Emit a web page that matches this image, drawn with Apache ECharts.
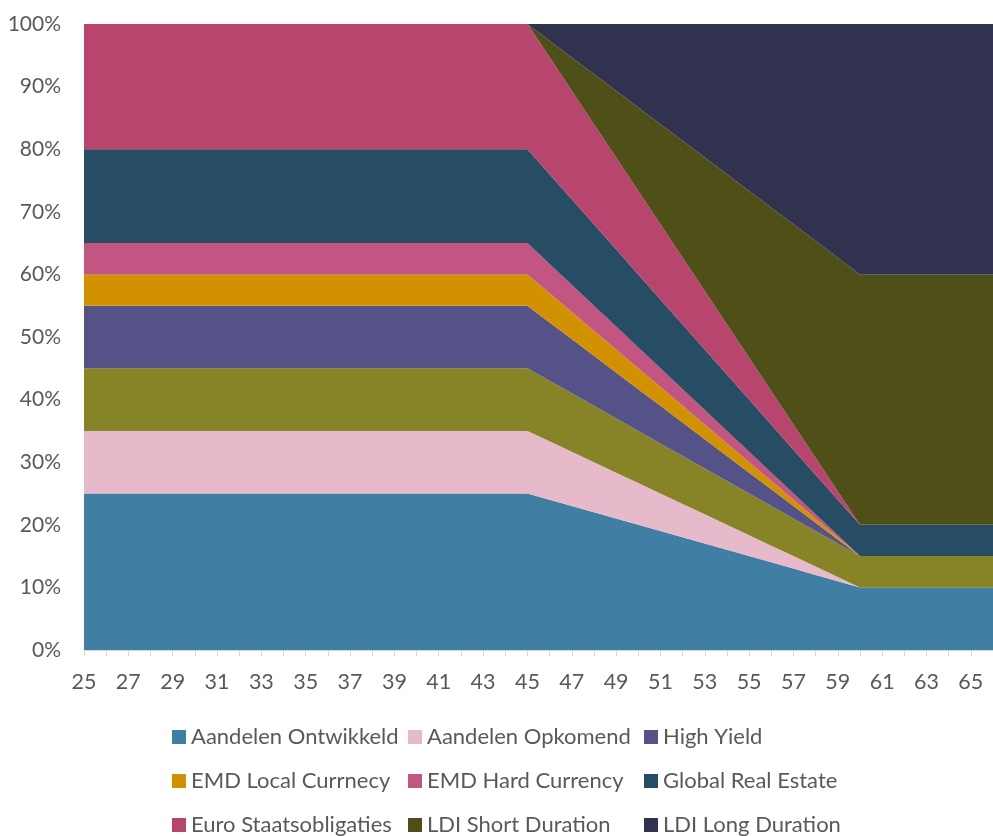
<!DOCTYPE html>
<html>
<head>
<meta charset="utf-8">
<script src="https://cdn.jsdelivr.net/npm/echarts@6/dist/echarts.min.js"></script>
<style>
html,body{margin:0;padding:0;background:#fff;}
#chart{width:993px;height:836px;}
</style>
</head>
<body>
<div id="chart"></div>
<script>
// Ages (categories)
var ages = ['25','26','27','28','29','30','31','32','33','34','35','36','37','38','39','40','41','42','43','44','45',
            '46','47','48','49','50','51','52','53','54','55','56','57','58','59','60',
            '61','62','63','64','65','66'];

// Series values (%)
var aandelenOntwikkeld = [25,25,25,25,25,25,25,25,25,25,25,25,25,25,25,25,25,25,25,25,25,
  24,23,22,21,20,19,18,17,16,15,14,13,12,11,10, 10,10,10,10,10,10];
var aandelenOpkomend = [10,10,10,10,10,10,10,10,10,10,10,10,10,10,10,10,10,10,10,10,10,
  9.33,8.67,8,7.33,6.67,6,5.33,4.67,4,3.33,2.67,2,1.33,0.67,0, 0,0,0,0,0,0];
var credits = [10,10,10,10,10,10,10,10,10,10,10,10,10,10,10,10,10,10,10,10,10,
  9.67,9.33,9,8.67,8.33,8,7.67,7.33,7,6.67,6.33,6,5.67,5.33,5, 5,5,5,5,5,5];
var highYield = [10,10,10,10,10,10,10,10,10,10,10,10,10,10,10,10,10,10,10,10,10,
  9.33,8.67,8,7.33,6.67,6,5.33,4.67,4,3.33,2.67,2,1.33,0.67,0, 0,0,0,0,0,0];
var emdLocal = [5,5,5,5,5,5,5,5,5,5,5,5,5,5,5,5,5,5,5,5,5,
  4.67,4.33,4,3.67,3.33,3,2.67,2.33,2,1.67,1.33,1,0.67,0.33,0, 0,0,0,0,0,0];
var emdHard = [5,5,5,5,5,5,5,5,5,5,5,5,5,5,5,5,5,5,5,5,5,
  4.67,4.33,4,3.67,3.33,3,2.67,2.33,2,1.67,1.33,1,0.67,0.33,0, 0,0,0,0,0,0];
var globalRealEstate = [15,15,15,15,15,15,15,15,15,15,15,15,15,15,15,15,15,15,15,15,15,
  14.33,13.67,13,12.33,11.67,11,10.33,9.67,9,8.33,7.67,7,6.33,5.67,5, 5,5,5,5,5,5];
var euroStaats = [20,20,20,20,20,20,20,20,20,20,20,20,20,20,20,20,20,20,20,20,20,
  18.67,17.33,16,14.67,13.33,12,10.67,9.33,8,6.67,5.33,4,2.67,1.33,0, 0,0,0,0,0,0];
var ldiShort = [0,0,0,0,0,0,0,0,0,0,0,0,0,0,0,0,0,0,0,0,0,
  2.67,5.33,8,10.67,13.33,16,18.67,21.33,24,26.67,29.33,32,34.67,37.33,40, 40,40,40,40,40,40];
var ldiLong = [0,0,0,0,0,0,0,0,0,0,0,0,0,0,0,0,0,0,0,0,0,
  2.67,5.33,8,10.67,13.33,16,18.67,21.33,24,26.67,29.33,32,34.67,37.33,40, 40,40,40,40,40,40];

var yTicks = [0,10,20,30,40,50,60,70,80,90,100];

var seriesDefs = [
  {name:'Aandelen Ontwikkeld', data:aandelenOntwikkeld, color:'#407FA3'},
  {name:'Aandelen Opkomend', data:aandelenOpkomend, color:'#E6B9CB'},
  {name:'Credits', data:credits, color:'#868427'},
  {name:'High Yield', data:highYield, color:'#545287'},
  {name:'EMD Local Currnecy', data:emdLocal, color:'#D29200'},
  {name:'EMD Hard Currency', data:emdHard, color:'#C25581'},
  {name:'Global Real Estate', data:globalRealEstate, color:'#264D63'},
  {name:'Euro Staatsobligaties', data:euroStaats, color:'#B8456E'},
  {name:'LDI Short Duration', data:ldiShort, color:'#4F5017'},
  {name:'LDI Long Duration', data:ldiLong, color:'#313250'}
];

var FONT = 'Lato';
var TXT = '#595959';

var legendBase = {
  orient:'vertical', top:726, height:300, width:330, padding:0, itemWidth:14, itemHeight:14, itemGap:22,
  icon:'rect',
  textStyle:{fontFamily:FONT, fontSize:22, color:TXT, lineHeight:18},
  selectedMode:false
};

var chart = echarts.init(document.getElementById('chart'), null, {renderer:'canvas'});
chart.setOption({
  animation:false,
  color: seriesDefs.map(function(s){return s.color;}),
  grid:{left:84, top:24, width:918.4, height:626, containLabel:false},
  legend:[
    Object.assign({}, legendBase, {left:172, data:['Aandelen Ontwikkeld','EMD Local Currnecy','Euro Staatsobligaties']}),
    Object.assign({}, legendBase, {left:408, data:['Aandelen Opkomend','EMD Hard Currency','LDI Short Duration']}),
    Object.assign({}, legendBase, {left:644, data:['High Yield','Global Real Estate','LDI Long Duration']})
  ],
  xAxis:{
    type:'category', data:ages, boundaryGap:false,
    axisLine:{lineStyle:{color:'#D9D9D9', width:1}},
    axisTick:{show:true, interval:0, length:6, lineStyle:{color:'#D9D9D9'}},
    axisLabel:{interval:1, margin:21, fontFamily:FONT, fontSize:21.5, color:TXT},
    splitLine:{show:false}
  },
  yAxis:{
    type:'value', min:yTicks[0], max:yTicks[yTicks.length-1], interval:10,
    axisLine:{show:false}, axisTick:{show:false},
    axisLabel:{formatter:'{value}%', margin:23, fontFamily:FONT, fontSize:21, color:TXT},
    splitLine:{show:true, lineStyle:{color:'#D9D9D9', width:1}}
  },
  series: seriesDefs.map(function(s){
    return {
      name:s.name, type:'line', stack:'total', data:s.data,
      symbol:'none', showSymbol:false,
      lineStyle:{width:0},
      areaStyle:{color:s.color, opacity:1},
      itemStyle:{color:s.color},
      emphasis:{disabled:true}
    };
  })
});
</script>
</body>
</html>
